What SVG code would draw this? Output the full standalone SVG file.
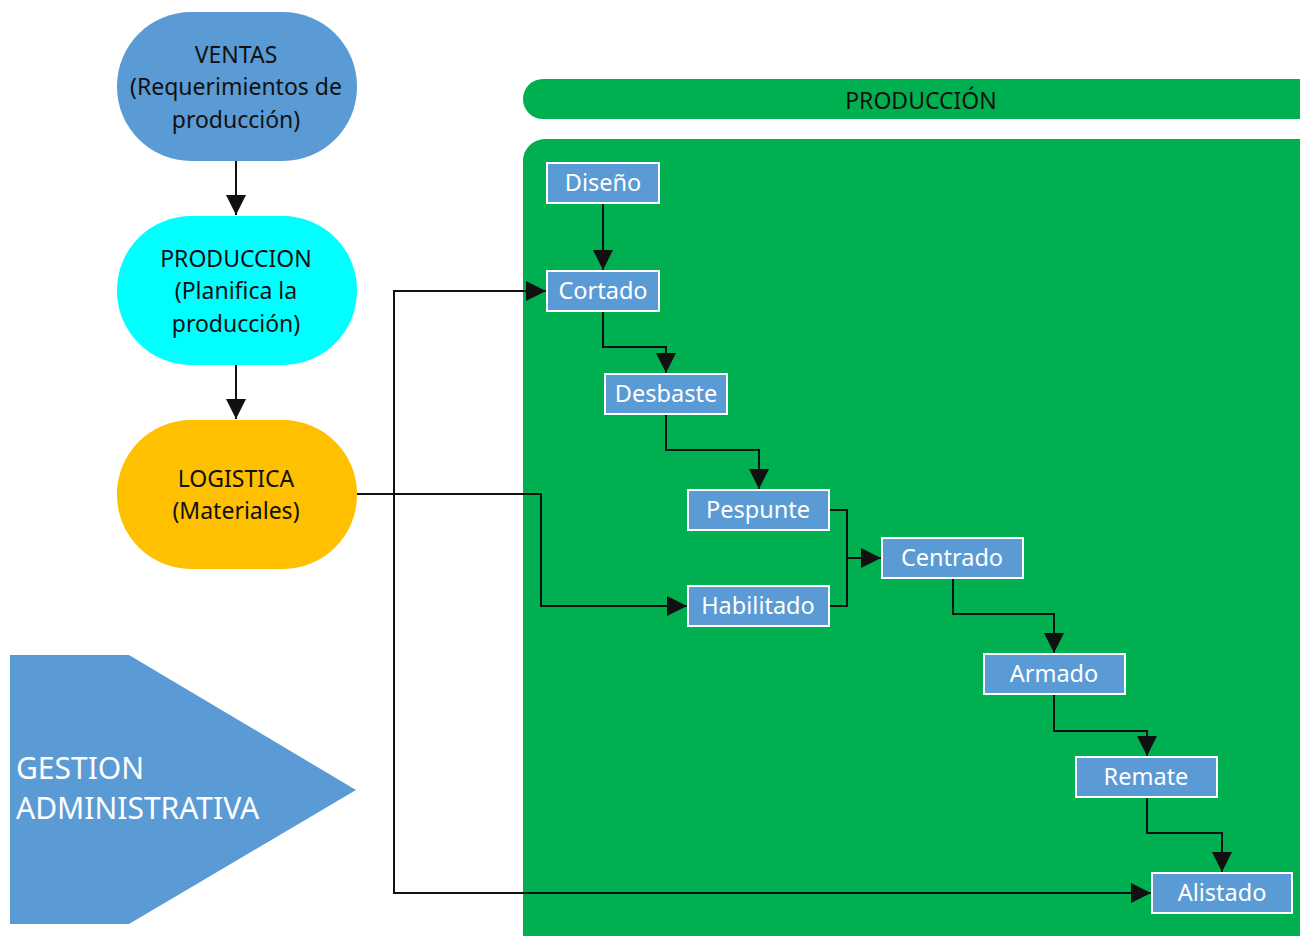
<svg xmlns="http://www.w3.org/2000/svg" width="1300" height="936" viewBox="0 0 1300 936">
<defs>
<marker id="ah" viewBox="0 0 20 20" refX="20" refY="10" markerWidth="20" markerHeight="20" markerUnits="userSpaceOnUse" orient="auto">
<path d="M0,0 L20,10 L0,20 Z" fill="#111"/>
</marker>
<style>
.t{font-family:"Noto Sans","Open Sans","Liberation Sans",sans-serif;text-anchor:middle}
.big{font-size:23px;fill:#111}
.box{fill:#5B9BD5;stroke:#fff;stroke-width:2}
.bt{font-size:23.5px;fill:#fff}
.c{fill:none;stroke:#111;stroke-width:2}
.a{marker-end:url(#ah)}
</style>
</defs>
<rect width="1300" height="936" fill="#fff"/>
<g id="ventas"><rect x="117" y="12" width="240" height="149" rx="74" fill="#5B9BD5"/>
<text class="t big" x="236" y="63">VENTAS</text>
<text class="t big" x="236" y="95">(Requerimientos de</text>
<text class="t big" x="236" y="128">producción)</text></g>
<g id="produccion"><rect x="117" y="216" width="240" height="149" rx="74" fill="#00FFFF"/>
<text class="t big" x="236" y="267">PRODUCCION</text>
<text class="t big" x="236" y="299">(Planifica la</text>
<text class="t big" x="236" y="332">producción)</text></g>
<g id="logistica"><rect x="117" y="420" width="240" height="149" rx="74" fill="#FFC000"/>
<text class="t big" x="236" y="487">LOGISTICA</text>
<text class="t big" x="236" y="519">(Materiales)</text></g>
<g id="gestion"><polygon points="10,655 129,655 356,790 129,924 10,924" fill="#5B9BD5"/>
<text x="16" y="779" style="font-family:'Noto Sans','Open Sans',sans-serif;font-size:30px;fill:#fff">GESTION</text>
<text x="16" y="819" style="font-family:'Noto Sans','Open Sans',sans-serif;font-size:30px;fill:#fff">ADMINISTRATIVA</text></g>
<g id="header"><rect x="523" y="79" width="820" height="40" rx="20" fill="#00B050"/>
<text class="t big" x="921" y="109">PRODUCCIÓN</text></g>
<g id="panel"><rect x="523" y="139" width="820" height="840" rx="22" fill="#00B050"/></g>
<g id="connectors">
<path class="c a" d="M236,161 V215"/>
<path class="c a" d="M236,365 V419"/>
<path class="c a" d="M603,203 V270"/>
<path class="c a" d="M603,311 V347 H666 V373"/>
<path class="c a" d="M666,414 V450 H759 V489"/>
<path class="c a" d="M829,510 H847 V558 H881"/>
<path class="c" d="M829,606 H847 V558"/>
<path class="c a" d="M953,578 V614 H1054 V653"/>
<path class="c a" d="M1054,694 V731 H1147 V756"/>
<path class="c a" d="M1147,797 V833 H1222 V872"/>
<path class="c a" d="M357,494 H541 V606 H687"/>
<path class="c a" d="M394,494 V291 H546"/>
<path class="c a" d="M394,494 V893 H1151"/>
</g>
<g id="diseno"><rect class="box" x="547" y="163" width="112" height="40"/><text class="t bt" x="603" y="191">Diseño</text></g>
<g id="cortado"><rect class="box" x="547" y="271" width="112" height="40"/><text class="t bt" x="603" y="299">Cortado</text></g>
<g id="desbaste"><rect class="box" x="605" y="374" width="122" height="40"/><text class="t bt" x="666" y="402">Desbaste</text></g>
<g id="pespunte"><rect class="box" x="688" y="490" width="141" height="40"/><text class="t bt" x="758" y="518">Pespunte</text></g>
<g id="habilitado"><rect class="box" x="688" y="586" width="141" height="40"/><text class="t bt" x="758" y="614">Habilitado</text></g>
<g id="centrado"><rect class="box" x="882" y="538" width="141" height="40"/><text class="t bt" x="952" y="566">Centrado</text></g>
<g id="armado"><rect class="box" x="984" y="654" width="141" height="40"/><text class="t bt" x="1054" y="682">Armado</text></g>
<g id="remate"><rect class="box" x="1076" y="757" width="141" height="40"/><text class="t bt" x="1146" y="785">Remate</text></g>
<g id="alistado"><rect class="box" x="1152" y="873" width="140" height="40"/><text class="t bt" x="1222" y="901">Alistado</text></g>
</svg>
